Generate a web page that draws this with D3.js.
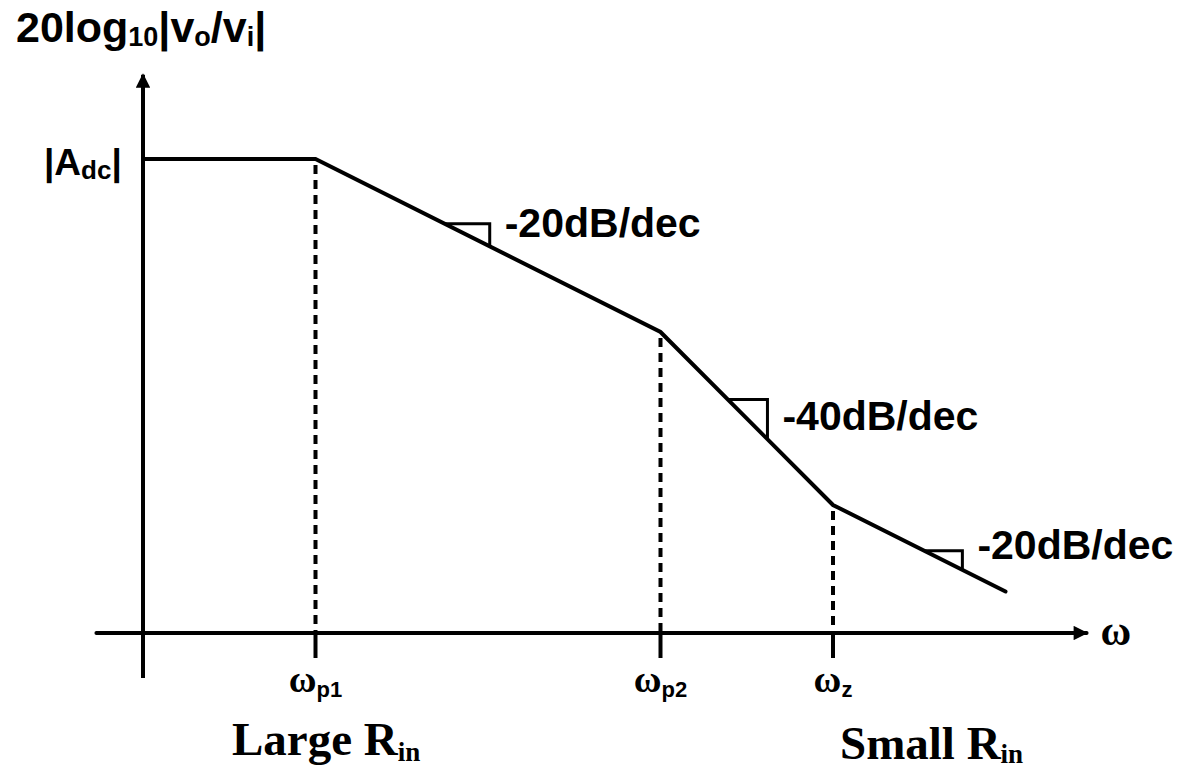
<!DOCTYPE html>
<html>
<head>
<meta charset="utf-8">
<script src="https://cdn.jsdelivr.net/npm/d3@7"></script>
<style>
  body { margin: 0; background: #fff; }
  .sans { font-family: "Liberation Sans", Arial, sans-serif; font-weight: bold; }
  .serif { font-family: "Liberation Serif", "Times New Roman", serif; font-weight: bold; }
</style>
</head>
<body>
<div class="chart"></div>
<script>
// asymptotic bode plot: log10(w) in decades from the y axis, gain in dB
var logW = [0, 1, 3, 4, 5];
var gainDb = [80, 80, 40, 0, -20];

// break frequencies (decades) and their labels
var breakW = [1, 3, 4];
var breakNames = [["ω", "p1"], ["ω", "p2"], ["ω", "z"]];

// slope markers: start decade, width, label
var slopeAt = [1.75, 3.39, 4.53];
var slopeWidth = [0.26, 0.23, 0.22];
var slopeText = ["-20dB/dec", "-40dB/dec", "-20dB/dec"];
var slopeTextDy = [13, 31, 8];

var svgWidth = 1192, svgHeight = 769;

var svg = d3.select(".chart")
  .append("svg")
  .attr("width", svgWidth)
  .attr("height", svgHeight);

var xScale = d3.scaleLinear().domain([0, 1]).range([143, 315.5]);
var yScale = d3.scaleLinear().domain([-29.6, 80]).range([633, 159]);

var pts = logW.map((d, i) => [d, gainDb[i]]);
var gainAt = function(w) {
  for (var i = 1; i < logW.length; i++) {
    if (w <= logW[i]) {
      var t = (w - logW[i - 1]) / (logW[i] - logW[i - 1]);
      return gainDb[i - 1] + t * (gainDb[i] - gainDb[i - 1]);
    }
  }
  return gainDb[gainDb.length - 1];
};

// arrow heads
var defs = svg.append("defs");
defs.append("marker")
  .attr("id", "arrow")
  .attr("viewBox", "0 0 10 10")
  .attr("refX", 9).attr("refY", 5)
  .attr("markerWidth", 4).attr("markerHeight", 3.6)
  .attr("orient", "auto")
  .append("path")
  .attr("d", "M0,0 L10,5 L0,10 z")
  .attr("fill", "#000");

// dashed drop lines and ticks
breakW.forEach(function(w) {
  svg.append("line")
    .attr("x1", xScale(w)).attr("x2", xScale(w))
    .attr("y1", yScale(gainAt(w)) + 6).attr("y2", yScale(-29.6))
    .attr("stroke", "#000").attr("stroke-width", 4)
    .attr("stroke-dasharray", "9,6");
  svg.append("line")
    .attr("x1", xScale(w)).attr("x2", xScale(w))
    .attr("y1", yScale(-29.6)).attr("y2", yScale(-29.6) + 25)
    .attr("stroke", "#000").attr("stroke-width", 4);
});

// axes
svg.append("line")
  .attr("x1", xScale(-0.27)).attr("x2", xScale(5.47))
  .attr("y1", yScale(-29.6)).attr("y2", yScale(-29.6))
  .attr("stroke", "#000").attr("stroke-width", 4)
  .attr("stroke-linecap", "round")
  .attr("marker-end", "url(#arrow)");
svg.append("line")
  .attr("x1", xScale(0)).attr("x2", xScale(0))
  .attr("y1", yScale(-40)).attr("y2", yScale(99.5))
  .attr("stroke", "#000").attr("stroke-width", 4)
  .attr("marker-end", "url(#arrow)");

// response curve
svg.append("path")
  .datum(pts)
  .attr("d", d3.line().x(d => xScale(d[0])).y(d => yScale(d[1])))
  .attr("fill", "none")
  .attr("stroke", "#000")
  .attr("stroke-width", 4)
  .attr("stroke-linecap", "round");

// slope triangles and labels
slopeAt.forEach(function(w, i) {
  var w2 = w + slopeWidth[i];
  var yTop = yScale(gainAt(w));
  svg.append("path")
    .attr("d", `M${xScale(w)},${yTop} L${xScale(w2)},${yTop} L${xScale(w2)},${yScale(gainAt(w2))}`)
    .attr("fill", "none").attr("stroke", "#000").attr("stroke-width", 3);
  svg.append("text")
    .attr("class", "sans")
    .attr("x", xScale(w2) + 15)
    .attr("y", yTop + slopeTextDy[i])
    .attr("font-size", 41)
    .text(slopeText[i]);
});

// title of y axis
var title = svg.append("text").attr("class", "sans")
  .attr("x", 16).attr("y", 42).attr("font-size", 43);
title.append("tspan").text("20log");
title.append("tspan").attr("font-size", 27).attr("dy", 4).text("10");
title.append("tspan").attr("dy", -4).text("|v");
title.append("tspan").attr("font-size", 27).attr("dy", 4).text("o");
title.append("tspan").attr("dy", -4).text("/v");
title.append("tspan").attr("font-size", 27).attr("dy", 4).text("i");
title.append("tspan").attr("dy", -4).text("|");

// |Adc| label
var adc = svg.append("text").attr("class", "sans")
  .attr("x", 44).attr("y", yScale(80) + 16).attr("font-size", 37);
adc.append("tspan").text("|A");
adc.append("tspan").attr("font-size", 26).attr("dy", 4).text("dc");
adc.append("tspan").attr("dy", -4).text("|");

// omega label at the x axis end
svg.append("text").attr("class", "serif")
  .attr("x", xScale(5.47) + 14).attr("y", yScale(-29.6) + 12)
  .attr("font-size", 42).attr("font-weight", "normal")
  .text("ω");

// break frequency labels
breakW.forEach(function(w, i) {
  var t = svg.append("text")
    .attr("x", xScale(w)).attr("y", yScale(-29.6) + 59)
    .attr("text-anchor", "middle");
  t.append("tspan").attr("class", "serif").attr("font-weight", "normal")
    .attr("font-size", 38).text(breakNames[i][0]);
  t.append("tspan").attr("class", "sans").attr("font-size", 22).attr("dy", 5).text(breakNames[i][1]);
});

// Rin notes
var large = svg.append("text").attr("class", "serif")
  .attr("x", 232).attr("y", 755).attr("font-size", 47);
large.append("tspan").text("Large R");
large.append("tspan").attr("font-size", 27).attr("dy", 6).text("in");

var small = svg.append("text").attr("class", "serif")
  .attr("x", 840).attr("y", 759).attr("font-size", 47);
small.append("tspan").text("Small R");
small.append("tspan").attr("font-size", 27).attr("dy", 4).text("in");
</script>
</body>
</html>
